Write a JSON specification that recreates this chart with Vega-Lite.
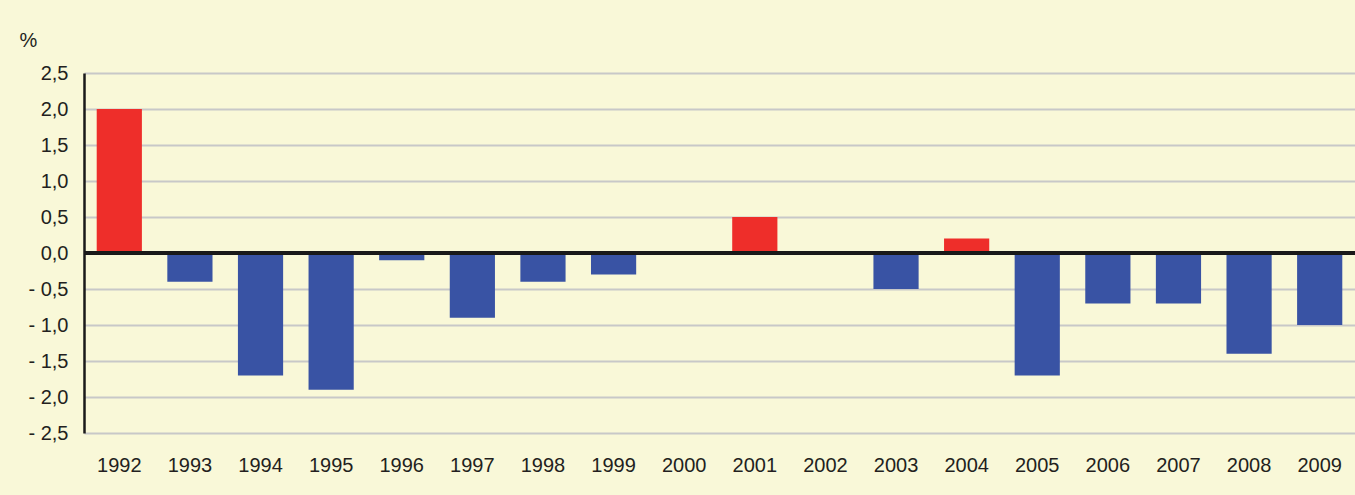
{
  "$schema": "https://vega.github.io/schema/vega-lite/v6.json",
  "width": 1271,
  "height": 360,
  "autosize": {"type": "none"},
  "padding": {"left": 84, "top": 73, "right": 0, "bottom": 62},
  "background": "#F9F8D8",
  "config": {
    "view": {"stroke": null},
    "font": "Liberation Sans",
    "axis": {"labelFont": "Liberation Sans", "labelFontSize": 20, "labelColor": "#231F20", "titleFont": "Liberation Sans"}
  },
  "data": {
    "values": [
      {"year": "1992", "value": 2.0},
      {"year": "1993", "value": -0.4},
      {"year": "1994", "value": -1.7},
      {"year": "1995", "value": -1.9},
      {"year": "1996", "value": -0.1},
      {"year": "1997", "value": -0.9},
      {"year": "1998", "value": -0.4},
      {"year": "1999", "value": -0.3},
      {"year": "2000", "value": 0.0},
      {"year": "2001", "value": 0.5},
      {"year": "2002", "value": 0.0},
      {"year": "2003", "value": -0.5},
      {"year": "2004", "value": 0.2},
      {"year": "2005", "value": -1.7},
      {"year": "2006", "value": -0.7},
      {"year": "2007", "value": -0.7},
      {"year": "2008", "value": -1.4},
      {"year": "2009", "value": -1.0}
    ]
  },
  "layer": [
    {
      "mark": {"type": "bar"},
      "encoding": {
        "x": {
          "field": "year", "type": "ordinal",
          "scale": {"paddingInner": 0.36, "paddingOuter": 0.18},
          "axis": {"title": null, "labelAngle": 0, "ticks": false, "domain": false, "labelPadding": 22, "labelFontSize": 20, "labelOverlap": false}
        },
        "y": {
          "field": "value", "type": "quantitative",
          "scale": {"domain": [-2.5, 2.5], "nice": false},
          "axis": {
            "tickCount": 10,
            "labelExpr": "datum.value < 0 ? '- ' + replace(format(abs(datum.value), '.1f'), '.', ',') : replace(format(datum.value, '.1f'), '.', ',')",
            "labelOverlap": false,
            "ticks": false,
            "domain": true, "domainColor": "#1a1a1a", "domainWidth": 2.5,
            "grid": true, "gridColor": "#C8C8C8", "gridWidth": 2,
            "labelPadding": 16,
            "title": "%", "titleAngle": 0, "titleAlign": "left", "titleBaseline": "alphabetic",
            "titleX": -65, "titleY": -27, "titleFontSize": 20, "titleFontWeight": "normal", "titleColor": "#231F20"
          }
        },
        "color": {
          "condition": {"test": "datum.value > 0", "value": "#EE2E2A"},
          "value": "#3953A4"
        }
      }
    },
    {
      "mark": {"type": "rule", "color": "#1a1a1a", "strokeWidth": 2.5},
      "encoding": {"y": {"datum": 0}}
    }
  ]
}
